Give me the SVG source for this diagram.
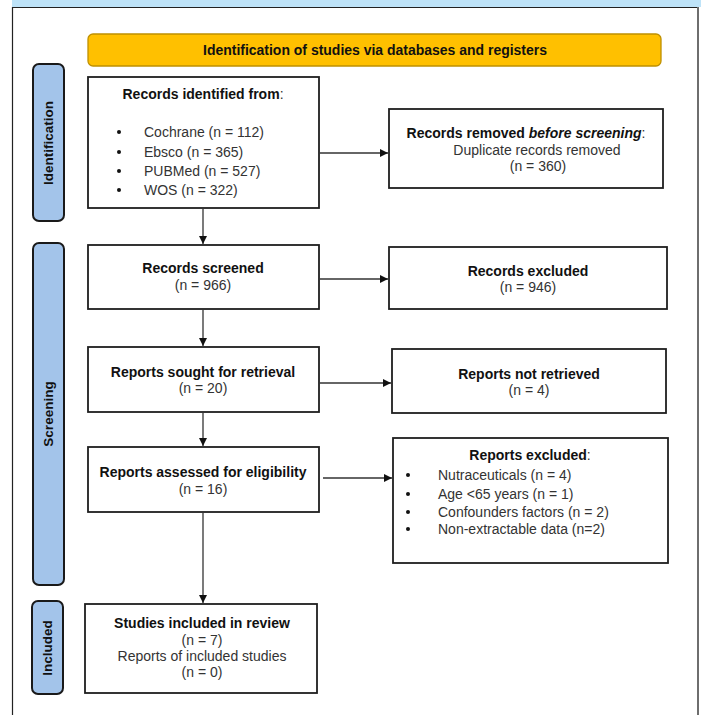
<svg xmlns="http://www.w3.org/2000/svg" width="701" height="715" viewBox="0 0 701 715">
<defs>
<marker id="arr" viewBox="0 0 10 10" refX="10" refY="5" markerWidth="8" markerHeight="8" markerUnits="userSpaceOnUse" orient="auto">
<path d="M0,0 L10,5 L0,10 z" fill="#111"/>
</marker>
<style>
.box{fill:#fff;stroke:#1e1e1e;stroke-width:1.8}
.side{fill:#A3C4EA;stroke:#1a1a1a;stroke-width:2}
.t{font-family:"Liberation Sans",Arial,sans-serif;font-size:14px;fill:#333}
.b{font-family:"Liberation Sans",Arial,sans-serif;font-size:14px;font-weight:bold;fill:#111}
.s{font-family:"Liberation Sans",Arial,sans-serif;font-size:13.5px;font-weight:bold;fill:#111}
.c{text-anchor:middle}
.ln{stroke:#333;stroke-width:1.3;fill:none}
</style>
</defs>
<rect x="0" y="0" width="701" height="715" fill="#fff"/>
<rect x="12" y="0" width="689" height="7" fill="#BEE3F8"/>
<path d="M12.5,715 V7.5 H698" fill="none" stroke="#222" stroke-width="1.2"/>
<line x1="698" y1="7" x2="698" y2="715" stroke="#6e6e6e" stroke-width="2"/>

<g id="header">
<rect x="88" y="34" width="573" height="32" rx="5" fill="#FFC000" stroke="#BF9000" stroke-width="1.3"/>
<text class="b c" x="375" y="55" font-size="13" textLength="344" lengthAdjust="spacingAndGlyphs">Identification of studies via databases and registers</text>
</g>

<g id="side-identification">
<rect class="side" x="33" y="64" width="31" height="157" rx="6"/>
<text class="s c" transform="translate(53,143) rotate(-90)">Identification</text>
</g>
<g id="side-screening">
<rect class="side" x="33" y="243" width="31" height="342" rx="6"/>
<text class="s c" transform="translate(53,414) rotate(-90)">Screening</text>
</g>
<g id="side-included">
<rect class="side" x="32" y="601" width="31" height="93" rx="6"/>
<text class="s c" transform="translate(52,648) rotate(-90)">Included</text>
</g>

<g id="records-identified">
<rect class="box" x="88" y="77" width="231" height="131"/>
<text class="b c" x="203" y="99">Records identified from<tspan font-weight="normal" fill="#333">:</tspan></text>
<g class="t">
<circle cx="119" cy="132" r="2" fill="#111"/>
<circle cx="119" cy="152" r="2" fill="#111"/>
<circle cx="119" cy="171" r="2" fill="#111"/>
<circle cx="119" cy="190" r="2" fill="#111"/>
<text x="144" y="137">Cochrane (n = 112)</text>
<text x="144" y="157">Ebsco (n = 365)</text>
<text x="144" y="176">PUBMed (n = 527)</text>
<text x="144" y="195">WOS (n = 322)</text>
</g>
</g>

<g id="records-removed">
<rect class="box" x="389" y="109" width="274" height="79"/>
<text class="b c" x="526" y="138">Records removed <tspan font-style="italic">before screening</tspan><tspan font-weight="normal" fill="#333">:</tspan></text>
<text class="t c" x="537" y="155">Duplicate records removed</text>
<text class="t c" x="538" y="171">(n = 360)</text>
</g>

<g id="records-screened">
<rect class="box" x="88" y="245" width="231" height="64"/>
<text class="b c" x="203" y="273">Records screened</text>
<text class="t c" x="203" y="290">(n = 966)</text>
</g>

<g id="records-excluded">
<rect class="box" x="389" y="247" width="278" height="62"/>
<text class="b c" x="528" y="276">Records excluded</text>
<text class="t c" x="528" y="292">(n = 946)</text>
</g>

<g id="reports-sought">
<rect class="box" x="88" y="347" width="231" height="65"/>
<text class="b c" x="203" y="377">Reports sought for retrieval</text>
<text class="t c" x="203" y="393">(n = 20)</text>
</g>

<g id="reports-not-retrieved">
<rect class="box" x="392" y="349" width="274" height="64"/>
<text class="b c" x="529" y="379">Reports not retrieved</text>
<text class="t c" x="529" y="395">(n = 4)</text>
</g>

<g id="reports-assessed">
<rect class="box" x="88" y="447" width="231" height="65"/>
<text class="b c" x="203" y="477">Reports assessed for eligibility</text>
<text class="t c" x="203" y="494">(n = 16)</text>
</g>

<g id="reports-excluded">
<rect class="box" x="393" y="438" width="275" height="125"/>
<text class="b c" x="530" y="460">Reports excluded<tspan font-weight="normal" fill="#333">:</tspan></text>
<g class="t">
<circle cx="408" cy="475" r="2" fill="#111"/>
<circle cx="408" cy="494" r="2" fill="#111"/>
<circle cx="408" cy="512" r="2" fill="#111"/>
<circle cx="408" cy="529" r="2" fill="#111"/>
<text x="438" y="480">Nutraceuticals (n = 4)</text>
<text x="438" y="499">Age &lt;65 years (n = 1)</text>
<text x="438" y="517">Confounders factors (n = 2)</text>
<text x="438" y="534">Non-extractable data (n=2)</text>
</g>
</g>

<g id="studies-included">
<rect class="box" x="85" y="604" width="232" height="89"/>
<text class="b c" x="202" y="628">Studies included in review</text>
<text class="t c" x="202" y="645">(n = 7)</text>
<text class="t c" x="202" y="661">Reports of included studies</text>
<text class="t c" x="202" y="677">(n = 0)</text>
</g>

<g id="connectors">
<line class="ln" x1="203" y1="208" x2="203" y2="244" marker-end="url(#arr)"/>
<line class="ln" x1="319" y1="153" x2="388" y2="153" marker-end="url(#arr)"/>
<line class="ln" x1="203" y1="309" x2="203" y2="346" marker-end="url(#arr)"/>
<line class="ln" x1="319" y1="279" x2="388" y2="279" marker-end="url(#arr)"/>
<line class="ln" x1="203" y1="412" x2="203" y2="446" marker-end="url(#arr)"/>
<line class="ln" x1="319" y1="383" x2="391" y2="383" marker-end="url(#arr)"/>
<line class="ln" x1="323" y1="478" x2="392" y2="478" marker-end="url(#arr)"/>
<line class="ln" x1="203" y1="512" x2="203" y2="603" marker-end="url(#arr)"/>
</g>
</svg>
